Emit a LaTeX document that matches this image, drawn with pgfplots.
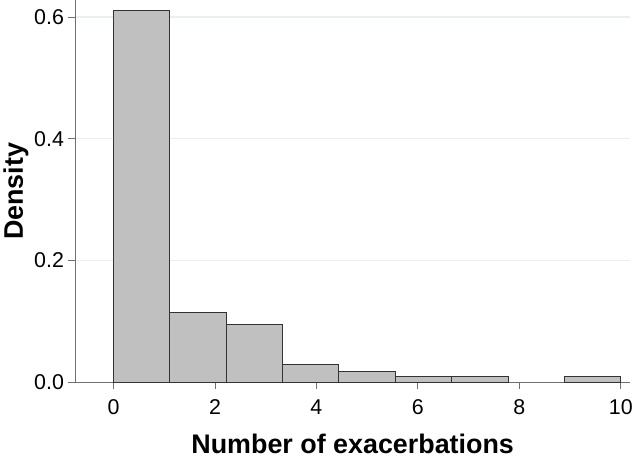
\documentclass[border=0pt]{standalone}
\usepackage{fontspec}
\setmainfont{Liberation Sans}
\usepackage{pgfplots}
\pgfplotsset{compat=1.18}
\definecolor{barfill}{HTML}{C0C0C0}
\definecolor{gridc}{HTML}{EAEFF5}
\definecolor{axisc}{HTML}{707070}
\begin{document}
\begin{tikzpicture}
\begin{axis}[
  scale only axis, width=555bp, height=382bp,
  xmin=-0.75, xmax=10.18, ymin=0, ymax=0.627,
  axis x line*=bottom, axis y line*=left,
  axis line style={axisc, line width=1pt},
  xtick={0,2,4,6,8,10}, ytick={0,0.2,0.4,0.6},
  yticklabel style={xshift=-1bp, /pgf/number format/.cd, fixed, fixed zerofill, precision=1},
  /pgf/number format/assume math mode=true,
  tick align=outside, major tick length=7bp,
  tick style={axisc, line width=0.8pt},
  ymajorgrids, grid style={gridc, line width=1.2pt},
  ticklabel style={font=\fontsize{21.5}{24}\selectfont},
  xticklabel style={yshift=-7bp},
  label style={font=\fontsize{27}{30}\selectfont\bfseries},
  xlabel={Number of exacerbations}, ylabel={Density},
  xlabel style={yshift=-12bp},
  ylabel style={yshift=-1bp},
]
\addplot[ybar interval, fill=barfill, draw=black!80, line width=1pt] coordinates {
(0,0.611) (1.1111,0.114) (2.2222,0.095) (3.3333,0.029) (4.4444,0.018)
(5.5556,0.0085) (6.6667,0.0085) (7.7778,0)
};
\addplot[ybar interval, fill=barfill, draw=black!80, line width=1pt] coordinates {
(8.8889,0.0085) (10,0)
};
\end{axis}
\end{tikzpicture}
\end{document}
